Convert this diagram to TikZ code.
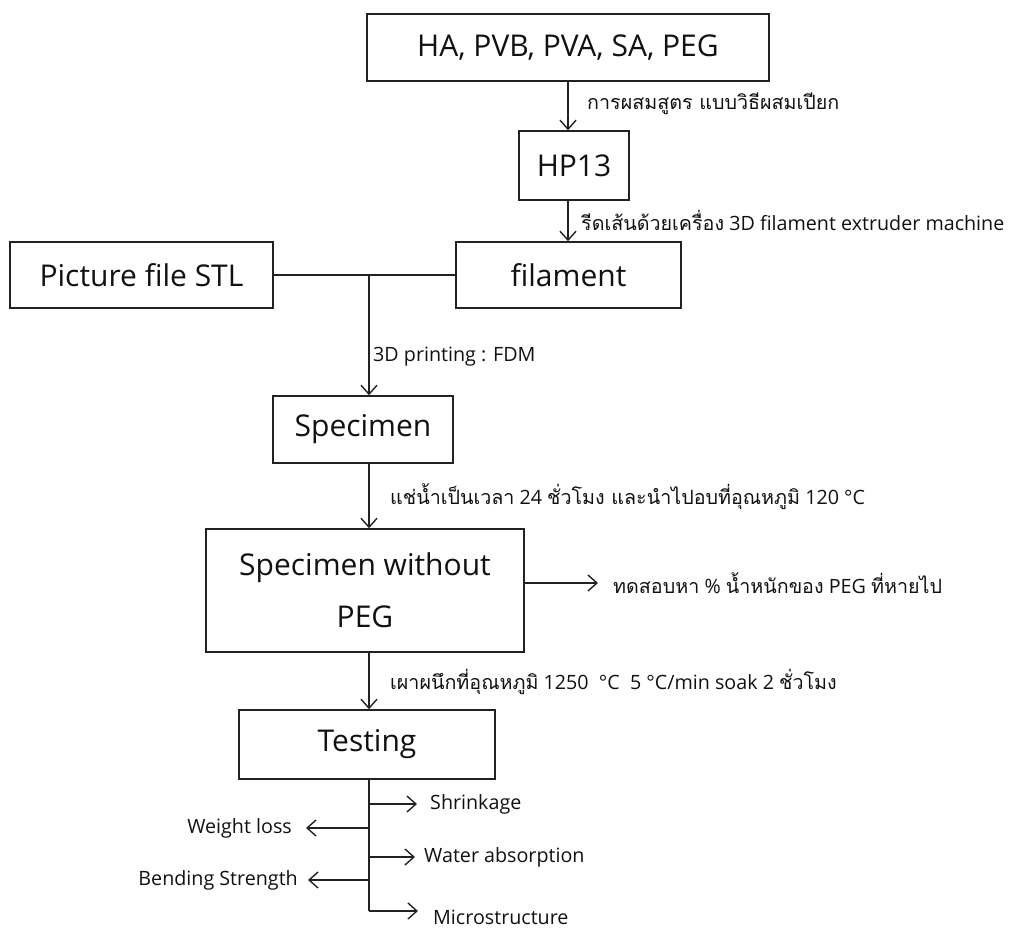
\documentclass[tikz,border=0pt]{standalone}
\usepackage{fontspec}
\setmainfont{Open Sans}
\newfontfamily\thaifont[Script=Thai]{Loma}
\usetikzlibrary{arrows.meta}
\definecolor{linec}{HTML}{222222}
\definecolor{txt}{HTML}{111111}
\newcommand\boxfont{\fontsize{30}{52}\selectfont}
\newcommand\lblfont{\fontsize{19.7}{23}\selectfont}
\begin{document}
\begin{tikzpicture}[x=1pt,y=-1pt,
  box/.style={draw=linec,line width=1.5pt,inner sep=0pt,font=\boxfont,text=txt,align=center},
  lbl/.style={anchor=west,inner sep=0pt,font=\lblfont,text=txt},
  lblr/.style={anchor=east,inner sep=0pt,font=\lblfont,text=txt},
  conn/.style={draw=linec,line width=1.4pt},
  arr/.style={conn,-{Straight Barb[length=9pt,width=16pt,line width=1.4pt]}}]
\useasboundingbox (0,0) rectangle (1016,927);
% boxes
\node[box,minimum width=402pt,minimum height=67pt] (b1) at (568,47.5) {HA, PVB, PVA, SA, PEG};
\node[box,minimum width=110pt,minimum height=69pt] (hp) at (574,165.5) {HP13};
\node[box,minimum width=225pt,minimum height=66pt] (fil) at (568.5,275) {filament};
\node[box,minimum width=263pt,minimum height=66pt] (stl) at (141.5,275) {Picture file STL};
\node[box,minimum width=180pt,minimum height=67pt] (spec) at (363,429.5) {Specimen};
\node[box,minimum width=318pt,minimum height=123pt] (swp) at (365,590.5) {Specimen without\\PEG};
\node[box,minimum width=256pt,minimum height=69pt] (test) at (367,744.5) {Testing};
% coordinates
\coordinate (c1) at (568,0);
\coordinate (j1) at (369,275);
\coordinate (e1) at (598,583);
\coordinate (tb) at (369,911);
% labels
\node[lbl] (l1) at (587,104) {\thaifont การผสมสูตร แบบวิธีผสมเปียก};
\node[lbl] (l2) at (581,220) {{\thaifont รีดเส้นด้วยเครื่อง} 3D filament extruder machine};
\node[lbl] (l3) at (373,357) {3D printing : FDM};
\node[lbl] (l4) at (390,497) {{\thaifont แช่น้ำเป็นเวลา} 24 {\thaifont ชั่วโมง และนำไปอบที่อุณหภูมิ} 120 °C};
\node[lbl] (l5) at (613,583) {{\thaifont ทดสอบหา} \% {\thaifont น้ำหนักของ} PEG {\thaifont ที่หายไป}};
\node[lbl] (l6) at (390,682) {{\thaifont เผาผนึกที่อุณหภูมิ} 1250\ \ °C\ \ 5 °C/min soak 2 {\thaifont ชั่วโมง}};
\node[lbl] (shr) at (430,804) {Shrinkage};
\node[lblr] (wl) at (292,828) {Weight loss};
\node[lbl] (wa) at (424,857) {Water absorption};
\node[lblr] (bs) at (298,880) {Bending Strength};
\node[lbl] (ms) at (433,917) {Microstructure};
% connectors
\draw[arr] (b1.south -| c1) -- (hp.north -| c1);
\draw[arr] (hp.south -| c1) -- (fil.north -| c1);
\draw[conn] (stl.east) -- (fil.west);
\draw[arr] (j1) -- (spec.north -| j1);
\draw[arr] (spec.south -| j1) -- (swp.north -| j1);
\draw[arr] (swp.east |- e1) -- (e1);
\draw[arr] (swp.south -| j1) -- (test.north -| j1);
\draw[conn] (test.south -| j1) -- (tb);
\draw[arr] (tb |- shr) -- ([xshift=-13pt]shr.west);
\draw[arr] (tb |- wl) -- ([xshift=14pt]wl.east);
\draw[arr] (tb |- wa) -- ([xshift=-9pt]wa.west);
\draw[arr] (tb |- bs) -- ([xshift=10pt]bs.east);
\draw[arr] (tb) -- (418,911);
\end{tikzpicture}
\end{document}
